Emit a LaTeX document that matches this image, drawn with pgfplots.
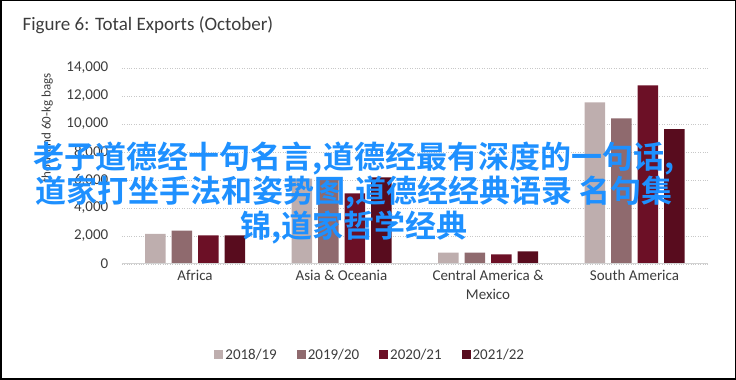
\documentclass[border=0pt]{standalone}
\usepackage{fontspec}
\setmainfont{Carlito}
\newfontfamily\cjk{Noto Sans CJK SC Bold}
\usepackage{pgfplots}
\pgfplotsset{compat=1.18}
\definecolor{cA}{RGB}{190,174,174}
\definecolor{cB}{RGB}{143,106,110}
\definecolor{cC}{RGB}{108,16,38}
\definecolor{cD}{RGB}{88,12,30}
\definecolor{gridc}{RGB}{200,200,200}
\definecolor{axc}{RGB}{210,210,210}
\definecolor{txt}{RGB}{60,60,60}
\definecolor{wm}{RGB}{30,144,255}
\begin{document}
\begin{tikzpicture}[x=1pt,y=1pt]
\path[use as bounding box] (0,0) rectangle (736,380);
\draw[line width=1.5pt] (0.75,0.75) rectangle (735.25,379.25);
\node[anchor=west,text=txt,font=\fontsize{19}{22}\selectfont] at (19,355) {Figure 6: Total Exports (October)};
\begin{axis}[
  at={(121.75pt,116pt)}, anchor=south west,
  scale only axis, width=586pt, height=196pt,
  xmin=-0.5, xmax=3.5, ymin=0, ymax=14000,
  ybar=6pt, bar width=20.5pt,
  axis line style={draw=none},
  axis x line*=bottom, axis y line*=left,
  xtick=data,
  xticklabels={Africa, Asia \& Oceania, {Central America \&\\Mexico}, South America},
  xticklabel style={align=center, text=txt, font=\fontsize{15}{19}\selectfont, yshift=-3pt},
  ytick={0,2000,...,14000},
  yticklabel style={text=txt, font=\fontsize{15}{18}\selectfont, xshift=-10pt},
  /pgf/number format/assume math mode=true,
  /pgf/number format/1000 sep={,},
  scaled y ticks=false,
  major tick length=0pt,
  ymajorgrids, grid style={gridc, dotted, line width=0.8pt},
  ylabel={thousand 60-kg bags},
  ylabel style={at={(axis description cs:-0.127,0.694)}, anchor=center, text=txt, font=\fontsize{13}{15}\selectfont},
  legend columns=4,
  legend style={at={(axis description cs:0.424,-0.464)}, anchor=center, draw=none, fill=none,
    font=\fontsize{15}{18}\selectfont, text=txt, /tikz/every even column/.append style={column sep=18pt}},
  legend image code/.code={\fill[#1] (0pt,-4.5pt) rectangle (9pt,4.5pt);},
  clip=false,
]
\addplot[fill=cA, draw=none] coordinates {(0,2150) (1,6100) (2,810) (3,11550)};
\addplot[fill=cB, draw=none] coordinates {(0,2380) (1,6050) (2,810) (3,10400)};
\addplot[fill=cC, draw=none] coordinates {(0,2050) (1,5050) (2,690) (3,12760)};
\addplot[fill=cD, draw=none] coordinates {(0,2050) (1,6190) (2,905) (3,9640)};
\legend{2018/19, 2019/20, 2020/21, 2021/22}
\draw[axc, line width=1pt] (axis cs:-0.5,0) -- (axis cs:3.5,0);
\end{axis}
\node[text=wm, align=center, font=\cjk\fontsize{31}{33}\selectfont] at (354,187)
  {老子道德经十句名言,道德经最有深度的一句话,\\道家打坐手法和姿势图,道德经经典语录 名句集\\锦,道家哲学经典};
\end{tikzpicture}
\end{document}
